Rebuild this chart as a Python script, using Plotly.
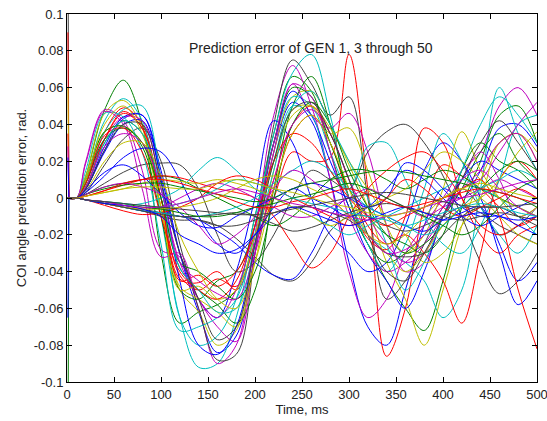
import plotly.graph_objects as go

# Time axis (ms)
time_ms = [0, 10, 20, 40, 60, 80, 100, 120, 140, 160, 180, 200, 220, 240, 260,
           280, 300, 320, 340, 360, 380, 400, 420, 440, 460, 480, 500]

# Prediction error per generator, in milliradians
gen_err_mrad = [
    [0,0,5,26,43,45,15,-30,-62,-84,-75,-30,25,52,42,10,-35,-70,-80,-50,-15,5,0,15,38,40,28],
    [0,0,12,48,64,40,-30,-68,-62,-58,-50,-10,35,66,58,25,-5,-25,-45,-60,-72,-45,-5,20,45,50,30],
    [0,0,8,36,49,40,0,-42,-50,-44,-48,-25,0,25,20,22,78,5,-86,-60,-5,18,12,5,-5,-15,-10],
    [0,0,10,42,54,42,-10,-65,-92,-90,-65,-15,35,68,78,45,0,-20,-28,-35,-45,-65,-50,5,60,35,15],
    [0,0,20,48,42,15,-28,-32,-60,-90,-80,-20,45,72,50,10,-40,-65,-55,-30,-15,0,15,25,50,60,45],
    [0,0,12,46,53,38,-5,-50,-62,-80,-72,-25,25,55,58,40,18,-5,-35,-55,-80,-50,-15,10,30,35,25],
    [0,0,3,18,32,38,20,-25,-60,-88,-85,-30,40,75,62,45,55,0,-55,-45,-25,-5,5,-5,-20,-15,-5],
    [0,0,5,25,40,42,12,-30,-55,-65,-40,0,42,30,0,-20,-30,-40,-35,-15,15,30,20,0,-25,-45,-35],
    [0,0,6,30,42,35,0,-38,-50,-58,-68,-50,5,50,66,40,0,-25,-35,-30,-20,-10,5,25,35,20,10],
    [0,0,6,32,47,38,0,-44,-46,-40,-50,-25,5,35,45,30,0,-22,-28,-10,38,30,0,-20,-30,-20,-15],
    [0,0,8,36,48,50,10,-65,-80,-75,-55,-10,30,55,50,25,0,-25,-40,-25,5,35,20,-5,-20,-30,-15],
    [0,0,8,32,44,42,5,-35,-55,-70,-78,-30,25,62,45,38,46,25,-15,-40,-35,-10,10,25,10,-10,-5],
    [0,0,8,36,39,30,-5,-48,-55,-62,-70,-35,15,48,50,35,38,15,-15,-30,-20,5,36,15,0,-10,-5],
    [0,0,2,8,14,18,19,18,5,-20,-40,-35,-20,0,15,10,5,25,36,40,30,12,-10,-35,-52,-45,-30],
    [0,0,5,28,44,45,10,-45,-80,-85,-70,-25,30,58,45,20,-5,-30,-45,-60,-40,-10,10,20,15,10,5],
    [0,0,10,36,39,28,-10,-50,-55,-45,-40,-15,30,60,55,30,5,-10,-20,-25,-30,-20,15,30,20,15,5],
    [0,0,6,32,46,38,0,-45,-42,-48,-40,-20,10,40,50,35,10,-15,-25,-20,-30,-45,-68,-30,10,20,10],
    [0,0,15,46,44,25,-25,-72,-70,-65,-55,-20,20,50,45,15,5,28,30,10,-10,-25,-30,-15,10,40,45],
    [0,0,19,47,40,5,-32,-30,-55,-65,-50,-15,30,62,55,25,-10,-30,-40,-35,-25,-10,5,10,25,40,52],
    [0,0,10,40,50,35,-5,-50,-48,-55,-50,-20,20,45,50,38,20,5,-10,-20,-35,-30,-15,0,30,35,20],
    [0,0,-1,-3,-5,-7,-10,-12,-12,-15,-22,-32,-42,-45,-35,-18,-10,-10,-15,-18,-15,-10,-5,-8,-15,-20,-25],
    [0,0,-1,-3,-5,-7,-8,-10,-12,-18,-25,-35,-42,-44,-30,-10,0,-5,-10,-15,-18,-12,-8,-5,-30,-58,-45],
    [0,0,8,32,38,30,0,-35,-40,-48,-55,-40,0,40,52,40,15,-5,-20,-30,-25,-15,-5,5,15,20,15],
    [0,0,8,34,38,25,-10,-40,-50,-55,-45,-15,20,35,30,15,0,-10,-15,-10,-5,0,5,10,-10,-50,-82],
    [0,0,6,30,42,35,5,-38,-50,-62,-60,-25,15,50,58,40,20,0,-25,-50,-35,-10,15,40,55,45,30],
    [0,0,6,28,35,30,5,-35,-45,-52,-55,-30,10,40,48,35,10,-10,-25,-35,-30,-10,5,15,30,35,20],
    [0,0,4,20,30,30,12,-20,-40,-55,-60,-35,5,35,45,30,5,-20,-30,-40,-30,-15,-5,0,10,25,36],
    [0,0,5,26,40,40,8,-30,-55,-77,-70,-25,20,48,52,35,10,-20,-40,-45,-30,-10,10,30,42,30,15],
    [0,0,3,12,22,27,25,10,-10,-25,-30,-20,-5,5,0,-5,-10,-5,5,15,10,0,-10,-15,-10,-5,0],
    [0,0,2,6,8,10,12,10,5,0,-5,-10,-15,-10,0,10,15,15,10,5,10,15,12,5,0,-5,-10],
    [0,0,1,4,7,10,12,11,8,5,3,0,-10,-25,-38,-30,-10,5,15,22,25,15,0,-15,-20,-15,-10],
    [0,0,-1,-3,-4,-3,0,5,15,22,15,5,0,-5,-10,-15,-20,-15,-10,-5,0,5,10,5,0,-10,-20],
    [0,0,-1,-3,-5,-6,-5,0,5,8,5,0,-5,-10,-10,-5,0,5,0,-5,-10,-5,0,5,10,5,0],
    [0,0,1,3,5,8,10,9,8,10,8,5,0,-5,-10,-15,-10,-5,0,5,15,25,20,10,0,-5,-10],
    [0,0,-1,-2,-4,-6,-8,-10,-12,-15,-15,-12,-8,-5,-5,-8,-12,-20,-30,-32,-30,-20,-10,-5,-5,-10,-15],
    [0,0,4,14,18,12,2,-8,-15,-16,-10,-5,0,5,8,5,0,-5,0,19,15,5,-5,-10,-10,-15,-20],
    [0,0,2,5,7,8,8,6,4,2,0,-2,0,5,8,10,12,14,15,14,12,10,8,5,3,0,-5],
    [0,0,-1,-4,-7,-9,-8,-5,0,8,12,10,5,0,-5,-10,-15,-10,0,10,5,-5,-10,-5,0,5,0],
    [0,0,-1,-3,-5,-7,-8,-10,-10,-8,-5,0,8,15,20,15,5,-5,-10,-15,-20,-15,-5,5,10,15,10],
    [0,0,2,6,8,6,2,-5,-15,-25,-20,-10,5,15,10,0,-10,-20,-30,-28,-20,-5,10,15,5,-5,-10],
    [0,0,-1,-3,-5,-6,-6,-5,-3,0,5,10,12,10,5,0,-10,-20,-25,-20,-10,0,5,0,-10,-20,-25],
    [0,0,-1,-3,-5,-7,-9,-10,-10,-9,-8,-10,-14,-18,-16,-12,-8,-5,-3,-5,-8,-10,-12,-10,-8,-10,-12],
    [0,0,-1,-3,-4,-6,-10,-20,-25,-30,-28,-20,-10,-5,-8,-12,-15,-12,-8,-5,-8,-12,-10,-8,-10,-12,-10],
    [0,0,-1,-2,-3,-5,-6,-8,-10,-10,-8,-5,-3,0,2,5,8,5,0,-5,-10,-15,-20,-15,-5,5,10],
    [0,0,1,4,8,10,10,8,5,2,-2,-5,-5,-2,0,3,5,2,-2,-5,-3,0,3,5,3,0,-3],
    [0,0,-1,-2,-3,-4,-5,-3,0,5,10,8,5,0,-3,-5,-8,-10,-12,-15,-12,-8,-5,-3,-5,-8,-10],
    [0,0,-1,-2,-4,-5,-5,-3,0,3,5,3,0,-3,-5,-8,-10,-12,-10,-8,-5,-2,0,2,5,8,10],
    [0,0,1,3,5,6,6,5,5,8,10,8,5,3,0,-3,-5,-8,-10,-8,-5,0,5,8,5,2,0],
    [0,0,-1,-2,-3,-4,-5,-6,-7,-8,-9,-9,-8,-6,-4,-2,0,2,3,2,0,-2,-4,-5,-5,-4,-3],
]

# Initial transient right after t=0 (off-scale start values), mrad, for a few generators
spike_t_ms = [1, 2]
spike_gen = [6, 2, 5, 23, 4, 0, 1, 21]
spike_start_mrad = [150, 90, 60, 35, 28, 22, -150, -65]

colors = ["#0000ff", "#008000", "#ff0000", "#00bfbf", "#bf00bf", "#bfbf00", "#404040"]

x_ticks = [0, 50, 100, 150, 200, 250, 300, 350, 400, 450, 500]
y_ticks = [0.1, 0.08, 0.06, 0.04, 0.02, 0, -0.02, -0.04, -0.06, -0.08, -0.1]
y_tick_text = ["0.1", "0.08", "0.06", "0.04", "0.02", "0", "-0.02", "-0.04", "-0.06", "-0.08", "-0.1"]

fig = go.Figure()

for g, s0 in zip(spike_gen, spike_start_mrad):
    fig.add_trace(go.Scatter(x=spike_t_ms, y=[s0 / 1000.0, 0.0], mode="lines",
                             line=dict(color=colors[g % 7], width=1),
                             showlegend=False, hoverinfo="skip"))

for i, series in enumerate(gen_err_mrad):
    assert len(series) == len(time_ms), (i, len(series))
    fig.add_trace(go.Scatter(x=time_ms, y=[v / 1000.0 for v in series], mode="lines",
                             line=dict(color=colors[i % 7], width=1, shape="spline", smoothing=1.0),
                             showlegend=False))

axis_common = dict(showline=True, linecolor="black", linewidth=1, mirror="ticks",
                   ticks="inside", ticklen=5, tickcolor="black", showgrid=False,
                   zeroline=False, automargin=False, ticklabeloverflow="allow",
                   tickfont=dict(size=13, color="#222"))

fig.update_layout(
    width=547, height=421,
    margin=dict(l=67, r=10, t=14, b=39),
    paper_bgcolor="white", plot_bgcolor="white",
    font=dict(family="Liberation Sans, Arial, sans-serif", size=13, color="#222"),
    xaxis=dict(range=[0, 500], tickvals=x_ticks,
               title=dict(text="Time, ms", font=dict(size=13), standoff=2), **axis_common),
    yaxis=dict(range=[-0.1, 0.1], tickvals=y_ticks, ticktext=y_tick_text,
               title=dict(text="COI angle prediction error, rad.", font=dict(size=13), standoff=4),
               **axis_common),
    annotations=[dict(text="Prediction error of GEN 1, 3 through 50", x=0.52, y=0.935,
                      xref="paper", yref="paper", showarrow=False,
                      font=dict(size=14, color="#222"))],
)

# Remove the default 8px page margin so the 547x421 figure fills the window exactly.
fig.write_html("out.html", config={"displayModeBar": False},
               post_script="document.body.style.margin='0px';document.body.style.overflow='hidden';")
